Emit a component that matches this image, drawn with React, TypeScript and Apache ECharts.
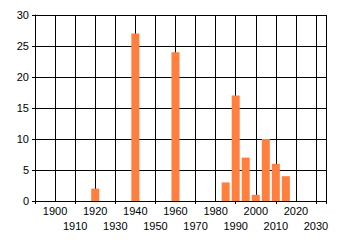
import React, { useEffect, useRef } from "react";
import * as echarts from "echarts";

const years = [1920, 1940, 1960, 1985, 1990, 1995, 2000, 2005, 2010, 2015];
const counts = [2, 27, 24, 3, 17, 7, 1, 10, 6, 4];
const yTicks = { min: 0, max: 30, interval: 5 };
const xRange = { min: 1890, max: 2035, interval: 10 };

export default function App() {
  const ref = useRef<HTMLDivElement>(null);
  useEffect(() => {
    if (!ref.current) return;
    document.body.style.margin = "0";
    const chart = echarts.init(ref.current, null, { renderer: "svg" });
    const font = "Liberation Sans";
    chart.setOption({
      animation: false,
      grid: { left: 35, top: 15, right: 14, bottom: 44 },
      xAxis: [
        {
          type: "value",
          min: xRange.min,
          max: xRange.max,
          interval: xRange.interval,
          axisLine: { show: true, lineStyle: { color: "#000", width: 1 } },
          axisTick: { show: false },
          splitLine: {
            show: true,
            lineStyle: { color: "#000", width: 1 },
          },
          axisLabel: {
            margin: 4,
            color: "#000",
            fontFamily: font,
            fontSize: 11,
            formatter: (v: number) =>
              v >= 1900 && v <= 2030 && v % 20 === 0 ? String(v) : "",
          },
        },
        {
          type: "value",
          position: "bottom",
          min: 0,
          max: xRange.max - xRange.min,
          interval: 20,
          axisLine: { show: false },
          axisTick: {
            show: true,
            length: 3,
            lineStyle: { color: "#000", width: 1 },
          },
          splitLine: { show: false },
          axisLabel: {
            margin: 19,
            color: "#000",
            fontFamily: font,
            fontSize: 11,
            formatter: (v: number) =>
              v > 0 && v % 20 === 0 ? String(v + xRange.min) : "",
          },
        },
      ],
      yAxis: {
        type: "value",
        min: yTicks.min,
        max: yTicks.max,
        interval: yTicks.interval,
        axisLine: { show: true, lineStyle: { color: "#000", width: 1 } },
        axisTick: { show: true, length: 3, lineStyle: { color: "#000" } },
        splitLine: { show: true, lineStyle: { color: "#000", width: 1 } },
        axisLabel: {
          margin: 6,
          color: "#000",
          fontFamily: font,
          fontSize: 11,
        },
      },
      series: [
        {
          type: "bar",
          xAxisIndex: 0,
          barWidth: 8,
          itemStyle: { color: "#FF7F3F" },
          data: years.map((y, i) => [y, counts[i]]),
        },
      ],
    });
    return () => chart.dispose();
  }, []);
  return <div ref={ref} style={{ width: 340, height: 245 }} />;
}
